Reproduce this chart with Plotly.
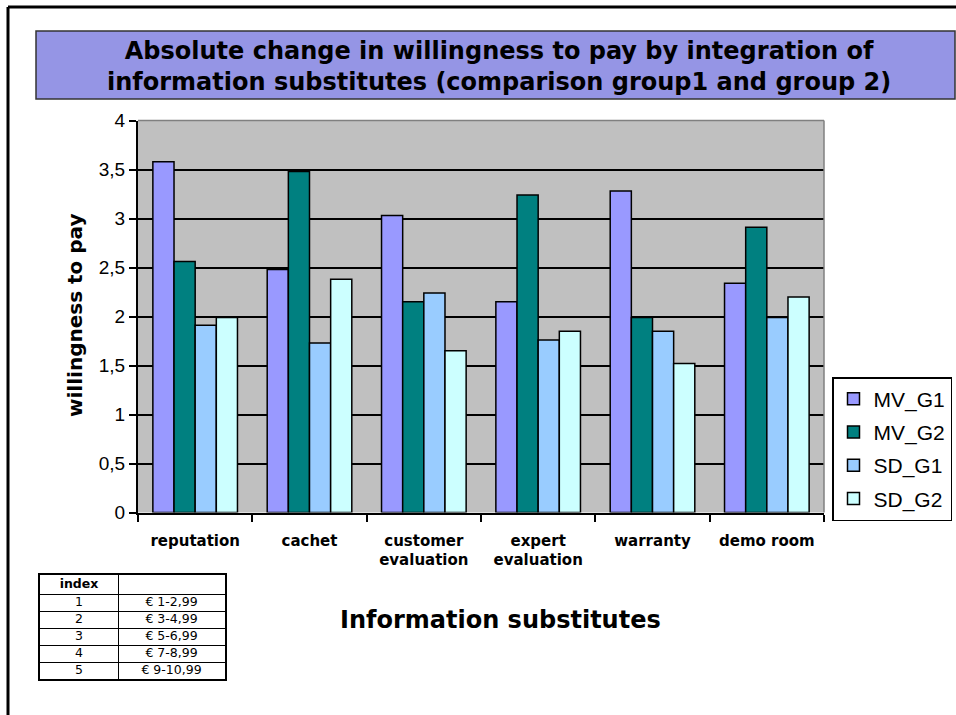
import plotly.graph_objects as go

categories = ["reputation", "cachet", "customer<br>evaluation", "expert<br>evaluation", "warranty", "demo room"]
series_names = ["MV_G1", "MV_G2", "SD_G1", "SD_G2"]
mv_g1 = [3.58, 2.48, 3.03, 2.15, 3.28, 2.34]
mv_g2 = [2.56, 3.48, 2.15, 3.24, 1.99, 2.91]
sd_g1 = [1.91, 1.73, 2.24, 1.76, 1.85, 1.99]
sd_g2 = [1.99, 2.38, 1.65, 1.85, 1.52, 2.20]
series_values = [mv_g1, mv_g2, sd_g1, sd_g2]
colors = ["#9999FF", "#008080", "#99CCFF", "#CCFFFF"]

y_tick_vals = [0, 0.5, 1, 1.5, 2, 2.5, 3, 3.5, 4]

table_header = ["<b>index</b>", ""]
table_index = ["1", "2", "3", "4", "5"]
table_price = ["€ 1-2,99", "€ 3-4,99", "€ 5-6,99", "€ 7-8,99", "€ 9-10,99"]

W, H = 956, 715
def px(x):
    return x / W
def py(y):
    return 1 - y / H

fig = go.Figure()
for name, vals, col in zip(series_names, series_values, colors):
    fig.add_trace(go.Bar(
        x=categories, y=vals, name=name, legendgroup=name,
        marker=dict(color=col, line=dict(color="black", width=1.5)),
        xaxis="x", yaxis="y",
    ))

# ---- index table drawn on its own hidden axes (grid lines = cell borders) ----
col_widths = [78, 107]          # layout widths of the two columns
row_heights = [19] + [17] * len(table_index)
col_edges = [0, col_widths[0], col_widths[0] + col_widths[1]]
row_edges = [0]
for h in row_heights:
    row_edges.append(row_edges[-1] + h)
col_centers = [(col_edges[i] + col_edges[i + 1]) / 2 for i in range(2)]
row_centers = [(row_edges[i] + row_edges[i + 1]) / 2 for i in range(len(row_heights))]

columns = [[table_header[0]] + table_index, [table_header[1]] + table_price]
tx, ty, tt = [], [], []
for ci, col_vals in enumerate(columns):
    for ri, v in enumerate(col_vals):
        tx.append(col_centers[ci])
        ty.append(row_centers[ri])
        tt.append(v)
fig.add_trace(go.Scatter(
    x=tx, y=ty, text=tt, mode="text", xaxis="x2", yaxis="y2",
    textfont=dict(family="DejaVu Sans", size=12.5, color="black"),
    showlegend=False, hoverinfo="skip", cliponaxis=False,
))

fig.update_layout(
    width=W, height=H,
    margin=dict(l=0, r=0, t=0, b=0),
    paper_bgcolor="white",
    plot_bgcolor="#C0C0C0",
    barmode="group",
    bargap=0.26,
    bargroupgap=0,
    separators=", ",
    xaxis=dict(
        domain=[px(138), px(824)],
        showline=True, linecolor="black", linewidth=2,
        ticks="outside", tickson="boundaries", ticklen=7, tickcolor="black", tickwidth=1.5,
        tickfont=dict(family="DejaVu Sans", size=15, color="black", weight="bold"),
        ticklabelstandoff=13,
        showgrid=False, automargin=False,
    ),
    yaxis=dict(
        domain=[py(512.5), py(120.5)],
        range=[0, 4],
        tickvals=y_tick_vals,
        showline=True, linecolor="black", linewidth=2,
        ticks="outside", ticklen=7, tickcolor="black", tickwidth=1.5,
        tickfont=dict(family="Liberation Sans", size=19, color="black"),
        showgrid=True, gridcolor="black", gridwidth=1.5,
        zeroline=False, automargin=False,
    ),
    xaxis2=dict(
        domain=[px(40), px(225)], anchor="y2",
        range=[col_edges[0], col_edges[-1]],
        tickvals=col_edges[1:-1], showticklabels=False, ticks="",
        showgrid=True, gridcolor="black", gridwidth=1,
        showline=True, mirror=True, linecolor="black", linewidth=1.5,
        zeroline=False, fixedrange=True,
    ),
    yaxis2=dict(
        domain=[py(575 + row_edges[-1]), py(575)], anchor="x2",
        range=[row_edges[-1], row_edges[0]],
        tickvals=row_edges[1:-1], showticklabels=False, ticks="",
        showgrid=True, gridcolor="black", gridwidth=1,
        showline=True, mirror=True, linecolor="black", linewidth=1.5,
        zeroline=False, fixedrange=True,
    ),
    legend=dict(
        x=px(832), y=py(377), xanchor="left", yanchor="top",
        bgcolor="white", bordercolor="black", borderwidth=1.5,
        font=dict(family="Liberation Sans", size=21, color="black"),
        tracegroupgap=3,
    ),
    showlegend=True,
)

shapes = [
    # white background for the table axes
    dict(type="rect", xref="x2 domain", yref="y2 domain", x0=0, x1=1, y0=0, y1=1,
         fillcolor="white", line=dict(width=0), layer="below"),
    # outer frame
    dict(type="line", xref="paper", yref="paper", x0=px(8), x1=1.01, y0=py(7), y1=py(7),
         line=dict(color="black", width=3)),
    dict(type="line", xref="paper", yref="paper", x0=px(8), x1=px(8), y0=py(7), y1=-0.01,
         line=dict(color="black", width=3)),
    # title box
    dict(type="rect", xref="paper", yref="paper", x0=px(36), x1=px(955), y0=py(99), y1=py(31),
         fillcolor="#9595E5", line=dict(color="#333333", width=1.5), layer="below"),
    # plot area top/right border
    dict(type="line", xref="x domain", yref="y domain", x0=0, x1=1, y0=1, y1=1,
         line=dict(color="#808080", width=1.5)),
    dict(type="line", xref="x domain", yref="y domain", x0=1, x1=1, y0=0, y1=1,
         line=dict(color="#808080", width=1.5)),
]
fig.update_layout(shapes=shapes)

fig.add_annotation(
    x=px(499), y=py(67), xref="paper", yref="paper", showarrow=False,
    text="Absolute change in willingness to pay by integration of<br>information substitutes (comparison group1 and group 2)",
    font=dict(family="DejaVu Sans", size=24, color="black", weight="bold"),
    xanchor="center", yanchor="middle", align="center",
)
fig.add_annotation(
    x=px(75), y=py(315), xref="paper", yref="paper", showarrow=False,
    text="willingness to pay", textangle=-90,
    font=dict(family="DejaVu Sans", size=20, color="black", weight="bold"),
    xanchor="center", yanchor="middle",
)
fig.add_annotation(
    x=px(501), y=py(620), xref="paper", yref="paper", showarrow=False,
    text="Information substitutes",
    font=dict(family="DejaVu Sans", size=24, color="black", weight="bold"),
    xanchor="center", yanchor="middle",
)

fig.write_html("out.html", post_script="document.body.style.margin='0';",
               config={"displayModeBar": False})
